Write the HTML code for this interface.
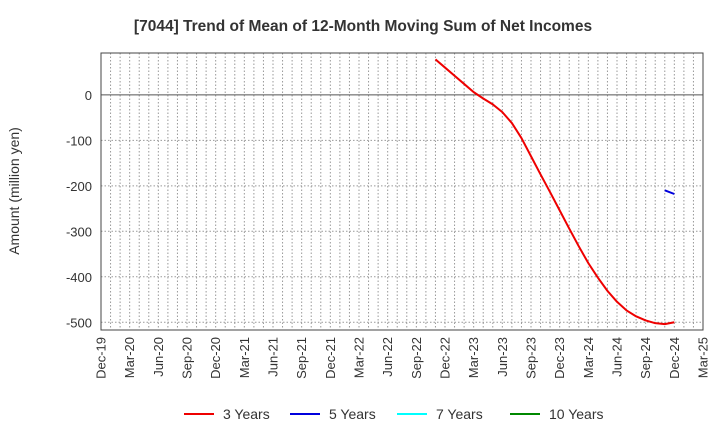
<!DOCTYPE html>
<html><head><meta charset="utf-8"><style>
body{margin:0;background:#fff;font-family:"Liberation Sans",sans-serif;}
</style></head><body>
<svg width="720" height="440" xmlns="http://www.w3.org/2000/svg" font-family="Liberation Sans, sans-serif">
<text x="363" y="31" text-anchor="middle" font-size="15.5" font-weight="bold" fill="#333">[7044]  Trend of Mean of 12-Month Moving Sum of Net Incomes</text>
<text transform="translate(19,191) rotate(-90)" text-anchor="middle" font-size="14" fill="#333">Amount (million yen)</text>
<g id="grid"></g><g id="axes"></g><g id="series"></g><g id="legend"></g>
</svg>
<script>
const months = 63; // Dec-19 .. Mar-25
const xLabels = ["Dec-19","Mar-20","Jun-20","Sep-20","Dec-20","Mar-21","Jun-21","Sep-21","Dec-21","Mar-22","Jun-22","Sep-22","Dec-22","Mar-23","Jun-23","Sep-23","Dec-23","Mar-24","Jun-24","Sep-24","Dec-24","Mar-25"];
const yTicks = [0,-100,-200,-300,-400,-500];
const red3Start = 35; // Nov-22
const red3 = [78,60,42,24,6,-8,-21,-38,-62,-95,-135,-175,-214,-254,-294,-333,-370,-402,-431,-455,-474,-487,-496,-502,-504,-500];
const blue5Start = 59; // Nov-24
const blue5 = [-210,-218];
const L=101,R=703,T=53,B=330,yMax=92,yMin=-517;
const xS=i=>L+i*(R-L)/months, yS=v=>T+(yMax-v)/(yMax-yMin)*(B-T);
const NS="http://www.w3.org/2000/svg";
function mk(p,tag,a){const e=document.createElementNS(NS,tag);for(const k in a)e.setAttribute(k,a[k]);p.appendChild(e);return e;}
const grid=document.getElementById('grid'),axes=document.getElementById('axes'),ser=document.getElementById('series'),leg=document.getElementById('legend');
for(let i=1;i<months;i++){const l=mk(grid,'line',{x1:xS(i),x2:xS(i),y1:T,y2:B,stroke:'#999','stroke-dasharray':'1.5,2','stroke-width':1});

}
yTicks.forEach(v=>{const y=yS(v);
const l=mk(grid,'line',{x1:L,x2:R,y1:y,y2:y,stroke:v===0?'#555':'#999','stroke-dasharray':v===0?'':'1.5,2','stroke-width':1});


const t=mk(axes,'text',{x:92,y:y+5,'text-anchor':'end','font-size':13,fill:'#333'});t.textContent=v;

});
const fr=mk(axes,'rect',{x:L,y:T,width:R-L,height:B-T,fill:'none',stroke:'#444','stroke-width':1});


xLabels.forEach((s,i)=>{const x=xS(i*3);
const t=mk(axes,'text',{transform:`translate(${x+4.5},337) rotate(-90)`,'text-anchor':'end','font-size':13,fill:'#333'});t.textContent=s;

});
function line(start,arr,col,name){const p=mk(ser,'polyline',{points:arr.map((v,i)=>xS(start+i)+','+yS(v)).join(' '),fill:'none',stroke:col,'stroke-width':2,'stroke-linejoin':'round'});

}
line(red3Start,red3,'#e00','series-3-years');
line(blue5Start,blue5,'#00d','series-5-years');
[["3 Years","#e00",184],["5 Years","#00d",290],["7 Years","#0ff",397],["10 Years","#080",510]].forEach(([n,c,x])=>{
const g=mk(leg,'g',{});


mk(g,'line',{x1:x,x2:x+30,y1:414,y2:414,stroke:c,'stroke-width':2});
const t=mk(g,'text',{x:x+39,y:419,'font-size':14,fill:'#333'});t.textContent=n;});
</script>
</body></html>
